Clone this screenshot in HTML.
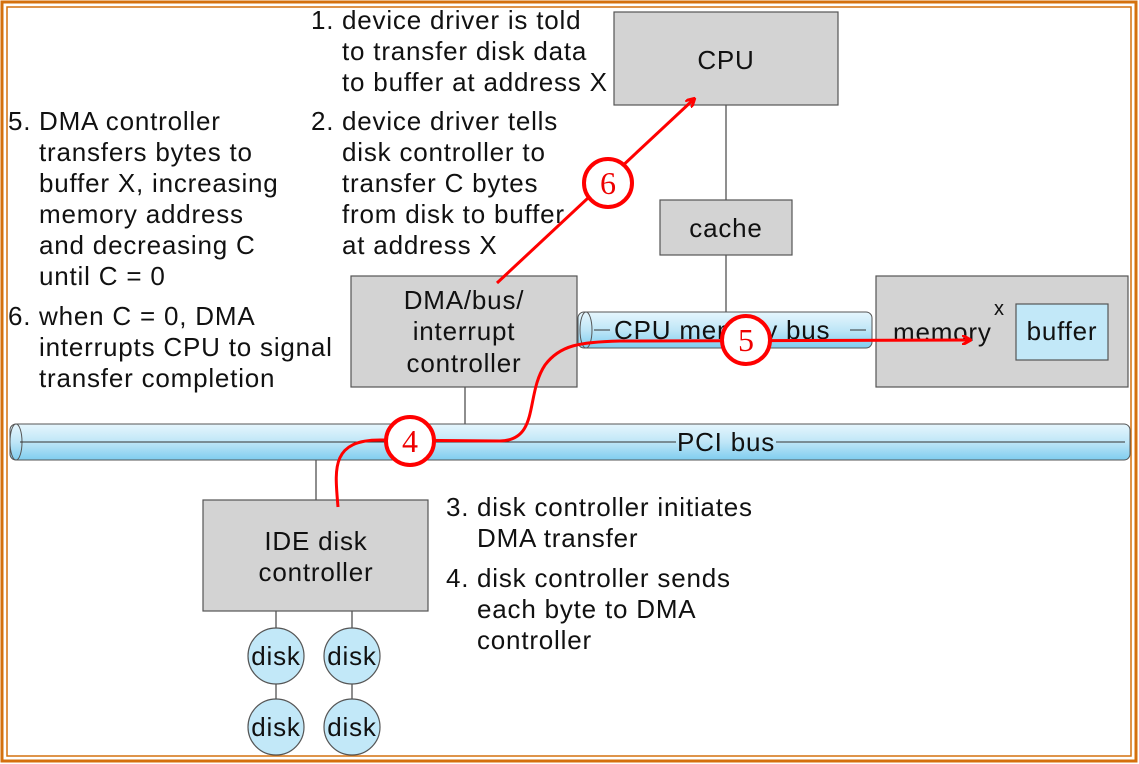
<!DOCTYPE html>
<html><head><style>
html,body{margin:0;padding:0;background:#fff;}
svg{display:block;font-family:"Liberation Sans",sans-serif;}
</style></head><body>
<svg width="1139" height="764" viewBox="0 0 1139 764" xmlns="http://www.w3.org/2000/svg">
<defs>
<linearGradient id="cyl" x1="0" y1="0" x2="0" y2="1">
<stop offset="0" stop-color="#e6f6fd"/><stop offset="0.5" stop-color="#bfe6f7"/><stop offset="1" stop-color="#7fcdef"/>
</linearGradient>
<marker id="ah" markerWidth="10" markerHeight="10" refX="8" refY="5" orient="auto" markerUnits="userSpaceOnUse">
<path d="M0,0 L9,5 L0,10" fill="none" stroke="#f00" stroke-width="3"/>
</marker>
</defs>
<rect x="2" y="2" width="1134" height="759" fill="none" stroke="#d4700e" stroke-width="3"/>
<rect x="7" y="7" width="1124" height="749" fill="none" stroke="#d4700e" stroke-width="1.5"/>

<g stroke="#444" stroke-width="1.2">
<line x1="726" y1="105" x2="726" y2="200"/>
<line x1="726" y1="255" x2="726" y2="312"/>
<line x1="465" y1="387" x2="465" y2="424"/>
<line x1="316" y1="460" x2="316" y2="500"/>
<line x1="276" y1="611" x2="276" y2="700"/>
<line x1="352" y1="611" x2="352" y2="700"/>
</g>
<g fill="#d3d3d3" stroke="#555" stroke-width="1.2">
<rect x="614" y="12" width="224" height="93"/>
<rect x="660" y="200" width="132" height="55"/>
<rect x="351" y="276" width="226" height="111"/>
<rect x="876" y="276" width="252" height="111"/>
<rect x="203" y="500" width="225" height="111"/>
</g>
<rect x="1016" y="304" width="92" height="56" fill="#c2e8f8" stroke="#555" stroke-width="1.2"/>
<rect x="578" y="312" width="294" height="36" rx="6" fill="url(#cyl)" stroke="#555" stroke-width="1"/>
<ellipse cx="586" cy="330" rx="6" ry="18" fill="none" stroke="#555" stroke-width="1"/>
<rect x="10" y="424" width="1120" height="36" rx="6" fill="url(#cyl)" stroke="#555" stroke-width="1"/>
<ellipse cx="16" cy="442" rx="6" ry="18" fill="none" stroke="#555" stroke-width="1"/>
<line x1="20" y1="442" x2="676" y2="442" stroke="#333" stroke-width="1"/>
<line x1="776" y1="442" x2="1125" y2="442" stroke="#333" stroke-width="1"/>
<line x1="594" y1="330" x2="610" y2="330" stroke="#333"/>
<line x1="850" y1="330" x2="866" y2="330" stroke="#333"/>
<g fill="#c2e8f8" stroke="#555" stroke-width="1.2">
<circle cx="276" cy="656" r="28"/><circle cx="352" cy="656" r="28"/>
<circle cx="276" cy="727" r="28"/><circle cx="352" cy="727" r="28"/>
</g>

<g font-size="26" fill="#111" letter-spacing="0.8">
<text x="726" y="69" text-anchor="middle">CPU</text>
<text x="726" y="237" text-anchor="middle">cache</text>
<text x="464" y="309" text-anchor="middle">DMA/bus/</text>
<text x="464" y="340" text-anchor="middle">interrupt</text>
<text x="464" y="372" text-anchor="middle">controller</text>
<text x="614" y="339">CPU memory bus</text>
<text x="893" y="341">memory</text>
<text x="994" y="315" font-size="20">x</text>
<text x="1062" y="340" text-anchor="middle">buffer</text>
<text x="726" y="451" text-anchor="middle">PCI bus</text>
<text x="316" y="550" text-anchor="middle">IDE disk</text>
<text x="316" y="581" text-anchor="middle">controller</text>
<text x="276" y="665" text-anchor="middle">disk</text><text x="352" y="665" text-anchor="middle">disk</text>
<text x="276" y="736" text-anchor="middle">disk</text><text x="352" y="736" text-anchor="middle">disk</text>

<text x="311" y="29">1.</text><text x="342" y="29">device driver is told</text>
<text x="342" y="60">to transfer disk data</text>
<text x="342" y="91">to buffer at address X</text>
<text x="311" y="130">2.</text><text x="342" y="130">device driver tells</text>
<text x="342" y="161">disk controller to</text>
<text x="342" y="192">transfer C bytes</text>
<text x="342" y="223">from disk to buffer</text>
<text x="342" y="254">at address X</text>

<text x="8" y="130">5.</text><text x="39" y="130">DMA controller</text>
<text x="39" y="161">transfers bytes to</text>
<text x="39" y="192">buffer X, increasing</text>
<text x="39" y="223">memory address</text>
<text x="39" y="254">and decreasing C</text>
<text x="39" y="285">until C = 0</text>
<text x="8" y="325">6.</text><text x="39" y="325">when C = 0, DMA</text>
<text x="39" y="356">interrupts CPU to signal</text>
<text x="39" y="387">transfer completion</text>

<text x="446" y="516">3.</text><text x="477" y="516">disk controller initiates</text>
<text x="477" y="547">DMA transfer</text>
<text x="446" y="587">4.</text><text x="477" y="587">disk controller sends</text>
<text x="477" y="618">each byte to DMA</text>
<text x="477" y="649">controller</text>
</g>

<g stroke="#f00" stroke-width="3" fill="none">
<line x1="497" y1="283" x2="694" y2="99" marker-end="url(#ah)"/>
<path d="M338,507 C335,470 330,440 380,440 L500,441 C540,440 525,395 545,365 C560,345 580,342 620,341 L970,340" marker-end="url(#ah)"/>
</g>
<g fill="#fff" stroke="#f00" stroke-width="4">
<circle cx="608" cy="183" r="24"/>
<circle cx="746" cy="340" r="24"/>
<circle cx="410" cy="441" r="24"/>
</g>
<g font-family="Liberation Serif,serif" font-size="32" fill="#e00" text-anchor="middle">
<text x="608" y="194">6</text><text x="746" y="351">5</text><text x="410" y="452">4</text>
</g>
</svg>
</body></html>
